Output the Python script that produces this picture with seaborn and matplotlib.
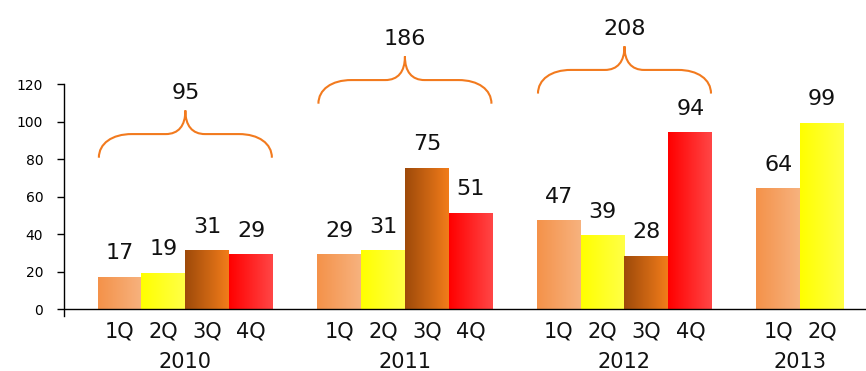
import numpy as np
import pandas as pd
import matplotlib
matplotlib.use("Agg")
import matplotlib.pyplot as plt
import seaborn as sns
from matplotlib.path import Path
from matplotlib.patches import PathPatch
from matplotlib.colors import to_rgb

# ---- data -------------------------------------------------------------
years = ["2010", "2011", "2012", "2013"]
quarters = ["1Q", "2Q", "3Q", "4Q"]
values_2010 = [17, 19, 31, 29]
values_2011 = [29, 31, 75, 51]
values_2012 = [47, 39, 28, 94]
values_2013 = [64, 99]
annual_totals = [95, 186, 208]          # full years only

# ---- styling ----------------------------------------------------------
left_colors = {"1Q": "#F4924A", "2Q": "#FFFF00", "3Q": "#9E4A0A", "4Q": "#FF0000"}
right_colors = {"1Q": "#F7B27E", "2Q": "#FFFF46", "3Q": "#F27C1A", "4Q": "#FF4646"}
brace_color = "#F27A1E"
brace_mid_levels = [93.3, 122.1, 127.5]   # vertical placement of each brace

# ---- long table: one row per bar, gap of one slot between years -------
rows = []
for gi, (yr, vals) in enumerate(zip(years, [values_2010, values_2011, values_2012, values_2013])):
    for qi, v in enumerate(vals):
        rows.append({"year": yr, "quarter": quarters[qi], "value": v, "pos": gi * 5 + qi})
df = pd.DataFrame(rows)

sns.set_style("white")
plt.rcParams["font.family"] = ["DejaVu Sans"]

fig = plt.figure(figsize=(8.66, 3.71), dpi=100)
ax = fig.add_axes([64 / 866, 55 / 371, 802 / 866, 232 / 371])

sns.barplot(data=df, x="pos", y="value", hue="quarter", hue_order=quarters,
            palette=left_colors, native_scale=True, dodge=False, width=1.0,
            errorbar=None, legend=False, linewidth=0, saturation=1, ax=ax)

# horizontal colour gradient inside every bar
grad = np.linspace(0, 1, 64)
for patch in list(ax.patches):
    fc = np.array(patch.get_facecolor()[:3])
    q = min(quarters, key=lambda k: np.abs(np.array(to_rgb(left_colors[k])) - fc).sum())
    c0 = np.array(to_rgb(left_colors[q]))
    c1 = np.array(to_rgb(right_colors[q]))
    img = (c0[None, :] * (1 - grad[:, None]) + c1[None, :] * grad[:, None])[None, :, :]
    x0, w, h = patch.get_x(), patch.get_width(), patch.get_height()
    ax.imshow(img, extent=(x0, x0 + w, 0, h), aspect="auto",
              interpolation="bilinear", zorder=patch.get_zorder() + 0.1)
    patch.set_facecolor("none")

# value labels above bars
for _, r in df.iterrows():
    ax.annotate(f"{r.value}", (r.pos, r.value), xytext=(0, 13), textcoords="offset points",
                ha="center", va="baseline", fontsize=16, color="#111111", annotation_clip=False)

# quarter and year labels under the axis
for _, r in df.iterrows():
    ax.annotate(r.quarter, (r.pos, 0), xytext=(0, -20.5), textcoords="offset points",
                ha="center", va="baseline", fontsize=15, color="#111111", annotation_clip=False)
for yr in years:
    xc = df.loc[df.year == yr, "pos"].mean()
    ax.annotate(yr, (xc, 0), xytext=(0, -42.5), textcoords="offset points",
                ha="center", va="baseline", fontsize=15, color="#111111", annotation_clip=False)


def curly_brace(ax, xc, half, ymid, drop=12.6, rise=12.6, curl=0.75, tip=0.45, **kw):
    x0, x1 = xc - half, xc + half
    ye, yt = ymid - drop, ymid + rise
    verts = [
        (x0, ye),
        (x0, ye + 0.6 * drop), (x0 + 0.4 * curl, ymid), (x0 + curl, ymid),
        (xc - tip, ymid),
        (xc - 0.35 * tip, ymid), (xc, ymid + 0.35 * rise), (xc, yt),
        (xc, ymid + 0.35 * rise), (xc + 0.35 * tip, ymid), (xc + tip, ymid),
        (x1 - curl, ymid),
        (x1 - 0.4 * curl, ymid), (x1, ye + 0.6 * drop), (x1, ye),
    ]
    codes = [Path.MOVETO,
             Path.CURVE4, Path.CURVE4, Path.CURVE4,
             Path.LINETO,
             Path.CURVE4, Path.CURVE4, Path.CURVE4,
             Path.CURVE4, Path.CURVE4, Path.CURVE4,
             Path.LINETO,
             Path.CURVE4, Path.CURVE4, Path.CURVE4]
    ax.add_patch(PathPatch(Path(verts, codes), fill=False, clip_on=False, **kw))
    return yt


for yr, total, ymid in zip(years[:3], annual_totals, brace_mid_levels):
    xc = df.loc[df.year == yr, "pos"].mean()
    top = curly_brace(ax, xc, 1.97, ymid, edgecolor=brace_color, linewidth=1.5)
    ax.text(xc, top + 6, f"{total}", ha="center", va="baseline", fontsize=16,
            color="#111111", clip_on=False)

# axes
ax.set_xlim(-1.264, 17.0)
ax.set_ylim(-3.7, 120)
ax.set_xticks([])
ax.set_xlabel("")
ax.set_ylabel("")
ax.set_yticks(range(0, 121, 20))
ax.tick_params(axis="y", direction="out", length=5, width=1, labelsize=10,
               pad=10, colors="black", left=True)
for s in ["top", "right", "bottom"]:
    ax.spines[s].set_visible(False)
ax.spines["left"].set_color("black")
ax.spines["left"].set_linewidth(1)
ax.axhline(0, color="black", linewidth=1, zorder=5)

fig.savefig("out.png", dpi=100)
